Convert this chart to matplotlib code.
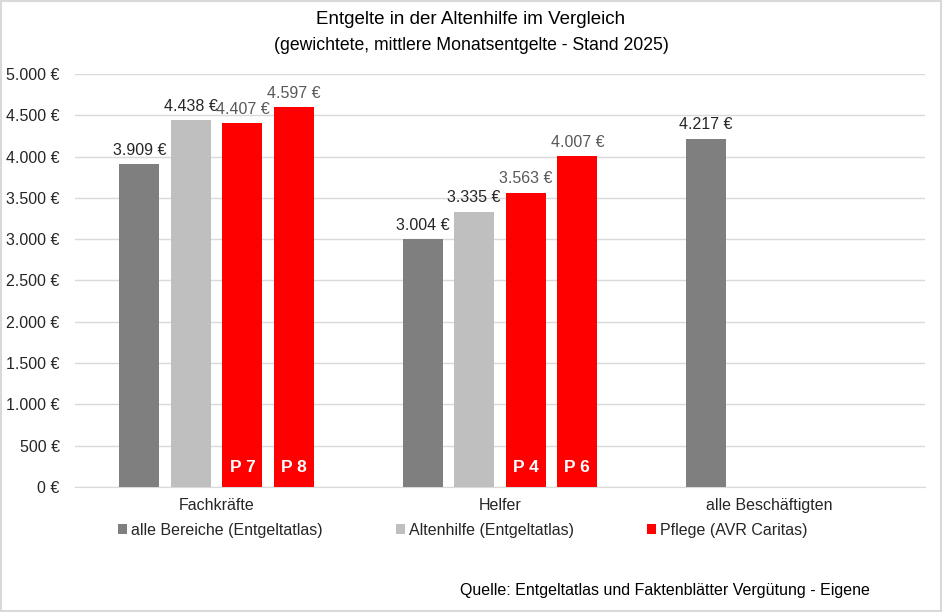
import numpy as np
import matplotlib.pyplot as plt
from matplotlib.patches import Rectangle

categories = ['Fachkräfte', 'Helfer', 'alle Beschäftigten']
alle_bereiche = [3909, 3004, 4217]
altenhilfe = [4438, 3335, np.nan]
pflege_a = [4407, 3563, np.nan]
pflege_b = [4597, 4007, np.nan]
pflege_a_tags = ['P 7', 'P 4', '']
pflege_b_tags = ['P 8', 'P 6', '']
yticks = np.arange(0, 5001, 500)

def euro(v):
    return f'{v:,.0f} €'.replace(',', '.')

plt.rcParams['font.family'] = ['Liberation Sans', 'DejaVu Sans']
fig = plt.figure(figsize=(9.42, 6.12), dpi=100, facecolor='white')
ax = fig.add_axes([75 / 942, 1 - 487 / 612, 850 / 942, 413 / 612])

x = np.arange(len(categories))
step = 0.182
width = 0.141
series = [
    (alle_bereiche, '#7f7f7f', 'alle Bereiche (Entgeltatlas)', '#262626', None),
    (altenhilfe, '#bfbfbf', 'Altenhilfe (Entgeltatlas)', '#262626', None),
    (pflege_a, '#ff0000', 'Pflege (AVR Caritas)', '#595959', pflege_a_tags),
    (pflege_b, '#ff0000', None, '#595959', pflege_b_tags),
]
handles = []
for i, (vals, col, lab, lcol, tags) in enumerate(series):
    pos = x + (i - 1.5) * step
    bars = ax.bar(pos, vals, width, color=col, label=lab, zorder=3)
    if lab:
        handles.append(bars)
    for j, (p, v) in enumerate(zip(pos, vals)):
        if np.isnan(v):
            continue
        ax.annotate(euro(v), (p, v), xytext=(0, 4.5), textcoords='offset points',
                    ha='center', va='bottom', fontsize=11.5, color=lcol)
        if tags and tags[j]:
            ax.annotate(tags[j], (p, 0), xytext=(0, 8.5), textcoords='offset points',
                        ha='center', va='bottom', fontsize=12.5, color='white',
                        fontweight='bold')

ax.set_xlim(-0.5, 2.5)
ax.set_ylim(0, 5000)
ax.set_yticks(yticks)
ax.set_yticklabels([euro(v) for v in yticks], fontsize=11.5, color='#262626')
ax.set_xticks(x + np.array([0, 0, -0.05]))
ax.set_xticklabels(categories, fontsize=11.5, color='#262626')
ax.tick_params(length=0, pad=8)
ax.tick_params(axis='y', pad=11)
ax.grid(axis='y', color='#d9d9d9', linewidth=1, zorder=0)
for s in ['top', 'right', 'left']:
    ax.spines[s].set_visible(False)
ax.spines['bottom'].set_color('#d9d9d9')

fig.legend(handles=handles, loc='center', bbox_to_anchor=(463 / 942, 1 - 530 / 612),
           ncol=3, frameon=False, fontsize=11.5, handlelength=0.55, handleheight=0.55,
           handletextpad=0.25, columnspacing=4.6, labelcolor='#262626')

fig.text(0.5, 1 - 20 / 612, 'Entgelte in der Altenhilfe im Vergleich', ha='center',
         va='center', fontsize=13.5, color='#000000')
fig.text(0.5, 1 - 45 / 612, '(gewichtete, mittlere Monatsentgelte - Stand 2025)',
         ha='center', va='center', fontsize=12.7, color='#000000')
fig.text(870 / 942, 1 - 590 / 612, 'Quelle: Entgeltatlas und Faktenblätter Vergütung - Eigene',
         ha='right', va='center', fontsize=11.5, color='#000000')

fig.patches.append(Rectangle((0.001, 0.001), 0.998, 0.998, transform=fig.transFigure,
                             fill=False, edgecolor='#d9d9d9', linewidth=1.5))

fig.savefig('out.png', dpi=100, facecolor='white')
